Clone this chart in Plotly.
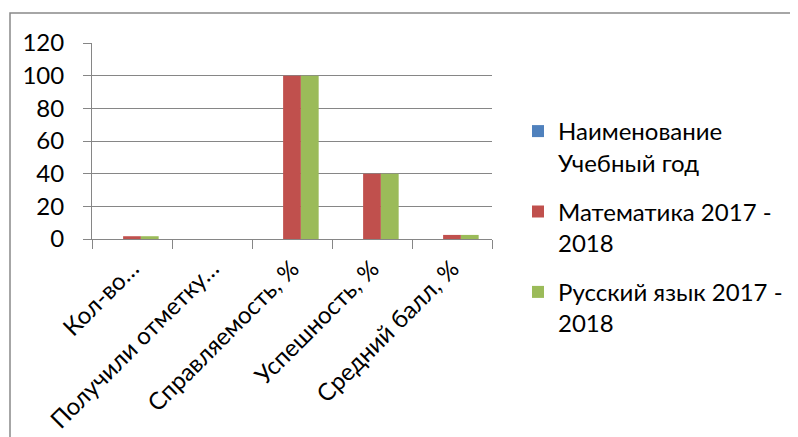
import plotly.graph_objects as go

categories = ["Кол-во…", "Получили отметку…", "Справляемость, %", "Успешность, %", "Средний балл, %"]
naim = [None, None, None, None, None]
math_vals = [1.7, 0, 100, 40, 2.5]
rus_vals = [1.7, 0, 100, 40, 2.5]
y_ticks = [0, 20, 40, 60, 80, 100, 120]

FONT = "Lato"
OFF = 8  # page body margin offset
W, H = 798 - OFF, 437 - OFF
PW, PH = 400, 196
L, T = 92 - OFF, 43 - OFF
R, B = W - L - PW, H - T - PH

fig = go.Figure()
fig.add_trace(go.Bar(x=categories, y=naim, name="Наименование<br>Учебный год",
                     marker=dict(color="#4F81BD", line=dict(width=0)), legendgroup="a"))
fig.add_trace(go.Bar(x=categories, y=math_vals, name="Математика 2017 -<br>2018",
                     marker=dict(color="#C0504D", line=dict(width=0)), legendgroup="b"))
fig.add_trace(go.Bar(x=categories, y=rus_vals, name="Русский язык 2017 -<br>2018",
                     marker=dict(color="#9BBB59", line=dict(width=0)), legendgroup="c"))

fig.update_layout(
    width=W, height=H,
    margin=dict(l=L, r=R, t=T, b=B, autoexpand=False),
    paper_bgcolor="white", plot_bgcolor="white",
    font=dict(family=FONT, size=22, color="black"),
    barmode="group", bargap=1.5 / 4.5, bargroupgap=0,
    showlegend=True,
    legend=dict(x=(518 - 8 - L) / PW, xanchor="left", y=(T + PH - 101) / PH, yanchor="top",
                valign="top", traceorder="grouped", tracegroupgap=15, maxheight=400,
                font=dict(family=FONT, size=24), itemwidth=30, bgcolor="rgba(0,0,0,0)"),
    xaxis=dict(type="category", tickangle=-45, ticks="outside", tickson="boundaries",
               ticklen=9, tickcolor="#868686", showline=True, linecolor="#868686",
               linewidth=1, showgrid=False, tickfont=dict(size=24), automargin=False,
               ticklabelstandoff=5),
    yaxis=dict(range=[0, 120], tickvals=y_ticks, ticks="outside", ticklen=8,
               tickcolor="#868686", showline=True, linecolor="#868686", linewidth=1,
               showgrid=True, gridcolor="#868686", gridwidth=1, zeroline=False,
               tickfont=dict(size=24), automargin=False, ticklabelstandoff=14),
)

# outer chart frame (top and left edges visible)
fig.add_shape(type="rect", xref="paper", yref="paper",
              x0=(10 - OFF - L) / PW, x1=(W + 20 - L) / PW,
              y0=(T + PH - (H + 20)) / PH,
              y1=(T + PH - (13 - OFF)) / PH,
              line=dict(color="#898989", width=1.5), layer="below")

fig.write_html("out.html")
